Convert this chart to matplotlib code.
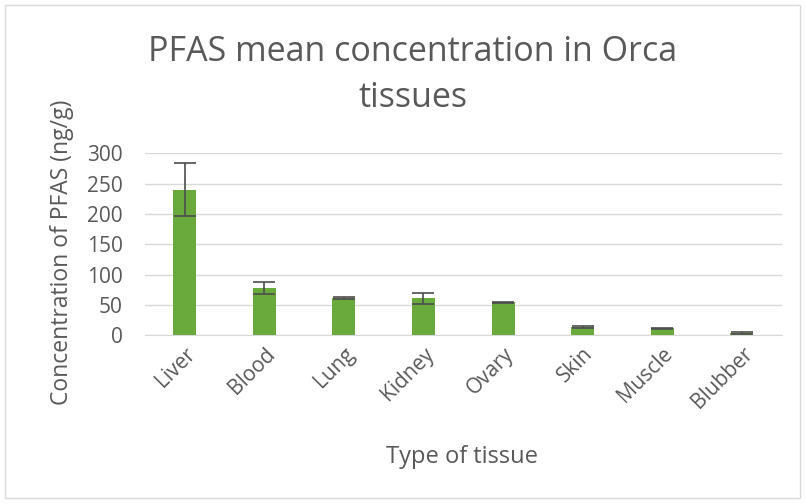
import matplotlib
matplotlib.use("Agg")
import matplotlib.pyplot as plt
from matplotlib.patches import Rectangle

# --- data ---
tissues = ["Liver", "Blood", "Lung", "Kidney", "Ovary", "Skin", "Muscle", "Blubber"]
mean_conc = [240, 78, 61, 61, 54, 13, 11, 4]
err_conc = [44, 10, 1.5, 9, 1.5, 1.5, 1.5, 1.5]
y_ticks = [0, 50, 100, 150, 200, 250, 300]

TEXT = "#595959"
GREEN = "#6aaa3c"

plt.rcParams['font.family'] = ['Open Sans', 'DejaVu Sans']

fig = plt.figure(figsize=(8.05, 5.04), dpi=100)
fig.patches.append(Rectangle((0.006, 0.012), 0.988, 0.978, transform=fig.transFigure,
                             fill=False, edgecolor="#d9d9d9", linewidth=1))

ax = fig.add_axes([0.180, 0.335, 0.791, 0.361])
x = list(range(len(tissues)))
ax.bar(x, mean_conc, width=0.29, color=GREEN, zorder=3,
       yerr=err_conc, error_kw=dict(ecolor="#4d4d4d", elinewidth=1.2, capsize=8, capthick=1.2))

ax.set_xlim(-0.5, len(tissues) - 0.5)
ax.set_ylim(0, 300)
ax.set_yticks(y_ticks)
ax.yaxis.grid(True, color="#d9d9d9", linewidth=1, zorder=0)
ax.set_axisbelow(True)
for side in ["top", "right", "left"]:
    ax.spines[side].set_visible(False)
ax.spines["bottom"].set_color("#d9d9d9")
ax.tick_params(axis="both", length=0, colors=TEXT, labelsize=15)
ax.tick_params(axis="y", pad=16)
ax.tick_params(axis="x", pad=6)
ax.set_xticks(x)
ax.set_xticklabels(tissues, rotation=45, ha="right", rotation_mode="anchor")

fig.text(462 / 805, 1 - 457 / 504, "Type of tissue", ha="center", va="center",
         color=TEXT, fontsize=17)
fig.text(62 / 805, 1 - 252 / 504, "Concentration of PFAS (ng/g)", ha="center", va="center",
         rotation=90, color=TEXT, fontsize=16.5)
fig.text(0.513, 1 - 75 / 504, "PFAS mean concentration in Orca\ntissues", ha="center", va="center",
         color=TEXT, fontsize=24.5, linespacing=1.45)

fig.savefig("out.png", dpi=100)
